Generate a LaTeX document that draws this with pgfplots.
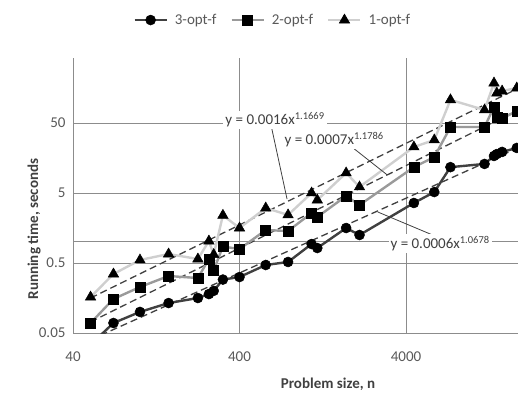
\documentclass[border=0pt]{standalone}
\usepackage{fontspec}
\setmainfont{Carlito}
\usepackage{pgfplots}
\pgfplotsset{compat=1.18}
\definecolor{gridc}{HTML}{8C8C8C}
\definecolor{txt}{HTML}{595959}
\definecolor{dark}{HTML}{404040}
\definecolor{midg}{HTML}{9A9A9A}
\definecolor{lightg}{HTML}{CFCFCF}
\begin{document}
\begin{tikzpicture}[x=1pt,y=1pt]
\begin{axis}[
  at={(0pt,0pt)}, anchor=south west,
  scale only axis, width=445pt, height=275pt,
  xmode=log, ymode=log,
  xmin=40, xmax=18830, ymin=0.05, ymax=424,
  xtick={40,400,4000}, xticklabels={40,400,4000},
  ytick={0.05,0.5,5,50}, yticklabels={0.05,0.5,5,50},
  extra y ticks={1}, extra y tick labels={},
  extra y tick style={grid=major},
  major tick length=0pt, minor tick length=0pt,
  grid=major,
  major grid style={gridc, line width=0.9pt},
  axis line style={draw=none},
  tick label style={font=\fontsize{15}{18}\selectfont, text=txt},
  xticklabel style={yshift=-15pt},
  yticklabel style={xshift=-4pt},
  xlabel={\textbf{Problem size, n}},
  ylabel={\textbf{Running time, seconds}},
  label style={font=\fontsize{15}{18}\selectfont, text=dark},
  xlabel style={at={(rel axis cs:0.573,0)}, anchor=center, yshift=-51pt},
  ylabel style={at={(rel axis cs:0,0.378)}, anchor=center, yshift=39pt},
  legend style={at={(rel axis cs:0.449,1.138)}, anchor=center, draw=none,
     font=\fontsize{15}{18}\selectfont, text=txt, column sep=5pt,
     /tikz/every even column/.append style={column sep=12pt}},
  legend columns=-1,
  legend image code/.code={\draw[mark repeat=2,mark phase=2] plot coordinates {(0pt,0pt) (16pt,0pt) (32pt,0pt)};},
  clip=true,
]
% trendlines
\addplot[dark, dashed, line width=1.3pt, dash pattern=on 7pt off 4pt, forget plot] coordinates {(51,0.158) (18512,152.7)};
\addplot[dark, dashed, line width=1.3pt, dash pattern=on 7pt off 4pt, forget plot] coordinates {(51,0.0720) (18512,74.9)};
\addplot[dark, dashed, line width=1.3pt, dash pattern=on 7pt off 4pt, forget plot] coordinates {(51,0.040) (18512,21.6)};
% 3-opt-f
\addplot[dark, line width=2.4pt, mark=*, mark size=5pt, mark options={fill=black, draw=black, line width=0.5pt}] coordinates {
(51,0.034) (70,0.0695) (101,0.100) (150,0.134) (225,0.158) (262,0.180) (280,0.200)
(318,0.290) (400,0.315) (575,0.468) (783,0.517) (1084,0.933) (1173,0.818)
(1748,1.58) (2103,1.256) (4461,3.6) (5915,5.16) (7397,11.7) (11849,13.0)
(13509,16.9) (14051,18.0) (15112,19.3) (18512,22.0)};
\addlegendentry{3-opt-f}
% 2-opt-f
\addplot[midg, line width=2.4pt, mark=square*, mark size=5pt, mark options={fill=black, draw=black, line width=0.5pt}] coordinates {
(51,0.0695) (70,0.153) (101,0.227) (150,0.326) (225,0.305) (262,0.57) (280,0.395)
(318,0.86) (400,0.79) (575,1.48) (783,1.43) (1084,2.59) (1173,2.27)
(1748,4.53) (2103,3.37) (4461,11.7) (5915,16.3) (7397,43.8) (11849,43.8)
(13509,84.7) (14051,60.9) (15112,58.0) (18512,74.2)};
\addlegendentry{2-opt-f}
% 1-opt-f
\addplot[lightg, line width=2.4pt, mark=triangle*, mark size=6pt, mark options={fill=black, draw=black, line width=0.5pt}] coordinates {
(51,0.163) (70,0.348) (101,0.552) (150,0.672) (225,0.57) (262,1.03) (280,0.66)
(318,2.4) (400,1.58) (575,3.05) (783,2.43) (1084,5.0) (1173,3.97)
(1748,9.66) (2103,6.1) (4461,22.7) (5915,28.6) (7397,107) (11849,76.7)
(13509,186) (14051,134) (15112,143) (18512,158)};
\addlegendentry{1-opt-f}
% leader lines
\draw[dark, line width=0.8pt] (rel axis cs:0.445,0.756) -- (rel axis cs:0.481,0.487);
\draw[dark, line width=0.8pt] (rel axis cs:0.627,0.676) -- (rel axis cs:0.706,0.575);
\draw[dark, line width=0.8pt] (rel axis cs:0.685,0.44) -- (rel axis cs:0.813,0.353);
% trendline labels
\node[fill=white, inner sep=2pt, text=dark, font=\fontsize{15}{18}\selectfont] at (rel axis cs:0.454,0.775) {y = 0.0016x\textsuperscript{1.1669}};
\node[fill=white, inner sep=2pt, text=dark, font=\fontsize{15}{18}\selectfont] at (rel axis cs:0.587,0.702) {y = 0.0007x\textsuperscript{1.1786}};
\node[fill=white, inner sep=2pt, text=dark, font=\fontsize{15}{18}\selectfont] at (rel axis cs:0.825,0.324) {y = 0.0006x\textsuperscript{1.0678}};
\end{axis}
\pgfresetboundingbox
\useasboundingbox (-73pt,-65pt) rectangle (445pt,333pt);
\end{tikzpicture}
\end{document}
